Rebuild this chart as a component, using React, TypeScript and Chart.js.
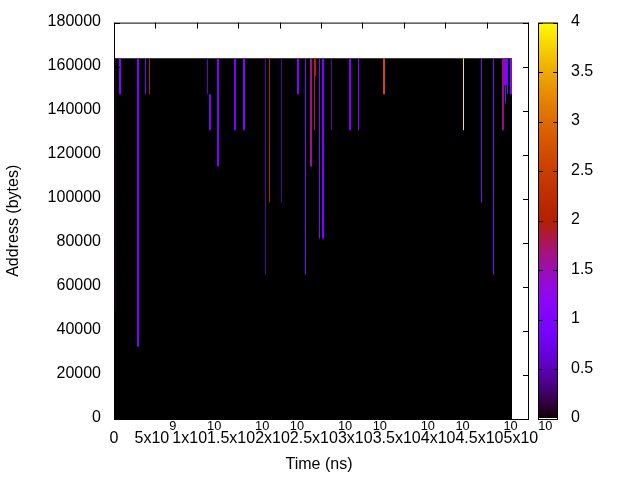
import React, { useEffect, useRef } from "react";
import { Chart, registerables } from "chart.js";

Chart.register(...registerables);

const FONT = '"Liberation Sans", Arial, sans-serif';

// ---- axis ticks ----
const Y_TICKS = [0, 20000, 40000, 60000, 80000, 100000, 120000, 140000, 160000, 180000];
const X_TICKS = [0, 5e9, 1e10, 1.5e10, 2e10, 2.5e10, 3e10, 3.5e10, 4e10, 4.5e10, 5e10];
const X_TICK_MANTISSA = ["0", "5x10", "1x10", "1.5x10", "2x10", "2.5x10", "3x10", "3.5x10", "4x10", "4.5x10", "5x10"];
const X_TICK_EXPONENT = ["", "9", "10", "10", "10", "10", "10", "10", "10", "10", "10"];
const CB_TICKS = [0, 0.5, 1, 1.5, 2, 2.5, 3, 3.5, 4];
const CB_LABELS = ["0", "0.5", "1", "1.5", "2", "2.5", "3", "3.5", "4"];

// ---- recorded region (address space x run time) ----
const ADDRESS_TOP = 163840;
const RUN_END = 48.07e9;

// ---- access streaks (time in ns, address range in bytes, access level) ----
const narrowTimes = [0.181e9, 3.804e9, 4.287e9, 11.292e9, 18.297e9, 18.78e9, 20.229e9, 23.128e9, 24.215e9, 24.819e9, 26.268e9, 29.529e9, 42.21e9, 44.384e9, 45.833e9, 46.92e9, 47.041e9, 47.283e9, 47.524e9];
const narrowLow = [49152, 147456, 147456, 147456, 65536, 98304, 98304, 65536, 131072, 81920, 131072, 131072, 131072, 98304, 65536, 131072, 131072, 143360, 147456];
const narrowHigh = [163840, 163840, 163840, 163840, 163840, 163840, 163840, 163840, 163840, 163840, 163840, 163840, 163840, 163840, 163840, 163840, 163840, 151552, 163840];
const narrowLevel = [0.1, 0.9, 1.8, 0.6, 0.45, 2.0, 0.45, 1.0, 1.9, 1.0, 0.45, 1.05, 3.9, 1.0, 1.0, 2.0, 0.95, 0.9, 0.9];

const wideTimes = [0.725e9, 2.899e9, 11.594e9, 12.56e9, 14.614e9, 15.7e9, 22.222e9, 23.792e9, 24.275e9, 25.242e9, 28.502e9, 32.609e9, 47.947e9];
const wideLow = [147456, 32768, 131072, 114688, 131072, 131072, 147456, 114688, 155648, 81920, 131072, 147456, 147456];
const wideHigh = [163840, 163840, 147456, 163840, 163840, 163840, 163840, 163840, 163840, 163840, 163840, 163840, 163840];
const wideLevel = [1.0, 0.9, 0.9, 0.9, 0.9, 1.05, 1.0, 1.6, 2.0, 0.95, 0.95, 2.6, 1.0];

const broadTimes = [47.283e9];
const broadLow = [151552];
const broadHigh = [163840];
const broadLevel = [1.05];

const CB_MAX = 4;

function paletteRGB(v: number): [number, number, number] {
  const g = Math.min(1, Math.max(0, v / CB_MAX));
  const r = Math.sqrt(g);
  const gg = g * g * g;
  const b = Math.max(0, Math.sin(2 * Math.PI * g));
  return [Math.round(r * 255), Math.round(gg * 255), Math.round(b * 255)];
}
function palette(v: number): string {
  const [r, g, b] = paletteRGB(v);
  return `rgb(${r},${g},${b})`;
}

function mk(xs: number[], lo: number[], hi: number[]) {
  return xs.map((x, i) => ({ x, y: [lo[i], hi[i]] }));
}

const decorPlugin = {
  id: "decor",
  afterDraw(chart: any) {
    const ctx = chart.ctx as CanvasRenderingContext2D;
    const { left, right, top, bottom } = chart.chartArea;
    const xs = chart.scales.x;
    const ys = chart.scales.y;
    ctx.save();
    ctx.globalAlpha = 1;
    ctx.globalCompositeOperation = "source-over";
    ctx.setLineDash([]);
    ctx.strokeStyle = "#000";
    ctx.lineWidth = 1;
    // frame
    ctx.strokeRect(left + 0.5, top + 0.5, right - left, bottom - top);
    // mirrored ticks
    const TL = 6;
    ctx.beginPath();
    Y_TICKS.forEach((v) => {
      const y = Math.round(ys.getPixelForValue(v)) + 0.5;
      ctx.moveTo(left, y);
      ctx.lineTo(left + TL, y);
      ctx.moveTo(right + 1, y);
      ctx.lineTo(right + 1 - TL, y);
    });
    X_TICKS.forEach((v) => {
      const x = Math.round(xs.getPixelForValue(v)) + 0.5;
      ctx.moveTo(x, top);
      ctx.lineTo(x, top + TL);
      ctx.moveTo(x, bottom + 1);
      ctx.lineTo(x, bottom + 1 - TL);
    });
    ctx.stroke();

    // x tick labels with superscript exponents
    ctx.fillStyle = "#000";
    ctx.textBaseline = "alphabetic";
    ctx.textAlign = "left";
    const mainFont = `16px ${FONT}`;
    const supFont = `12.8px ${FONT}`;
    X_TICKS.forEach((v, i) => {
      const x = xs.getPixelForValue(v);
      ctx.font = mainFont;
      const mw = ctx.measureText(X_TICK_MANTISSA[i]).width;
      ctx.font = supFont;
      const sw = X_TICK_EXPONENT[i] ? ctx.measureText(X_TICK_EXPONENT[i]).width : 0;
      const start = x - (mw + sw) / 2;
      ctx.font = mainFont;
      ctx.fillText(X_TICK_MANTISSA[i], start, 443);
      if (X_TICK_EXPONENT[i]) {
        ctx.font = supFont;
        ctx.fillText(X_TICK_EXPONENT[i], start + mw, 430);
      }
    });

    // axis titles
    ctx.font = mainFont;
    ctx.textAlign = "center";
    ctx.textBaseline = "middle";
    ctx.fillText("Time (ns)", 319, 465);
    ctx.save();
    ctx.translate(14, (top + bottom) / 2);
    ctx.rotate(-Math.PI / 2);
    ctx.fillText("Address (bytes)", 0, 0);
    ctx.restore();

    // colour box
    const cbL = 538;
    const cbW = 19;
    const cbTop = top;
    const cbBot = bottom;
    const h = cbBot - cbTop;
    const img = ctx.createImageData(cbW + 1, h);
    for (let row = 0; row < h; row++) {
      const v = ((h - (row + 0.5)) / h) * CB_MAX;
      const [r, g, b] = paletteRGB(v);
      for (let col = 0; col < cbW + 1; col++) {
        const k = (row * (cbW + 1) + col) * 4;
        img.data[k] = r;
        img.data[k + 1] = g;
        img.data[k + 2] = b;
        img.data[k + 3] = 255;
      }
    }
    ctx.putImageData(img, cbL, cbTop);
    ctx.strokeStyle = "#000";
    ctx.strokeRect(cbL + 0.5, cbTop + 0.5, cbW, h);
    ctx.beginPath();
    CB_TICKS.forEach((v) => {
      const y = Math.round(cbBot - (v / CB_MAX) * h) + 0.5;
      ctx.moveTo(cbL, y);
      ctx.lineTo(cbL + 5, y);
      ctx.moveTo(cbL + cbW + 1, y);
      ctx.lineTo(cbL + cbW + 1 - 5, y);
    });
    ctx.stroke();
    ctx.fillStyle = "#000";
    ctx.font = mainFont;
    ctx.textAlign = "left";
    ctx.textBaseline = "middle";
    CB_TICKS.forEach((v, i) => {
      const y = cbBot - (v / CB_MAX) * h;
      ctx.fillText(CB_LABELS[i], 571, y - 1);
    });
    ctx.restore();
  },
};

export default function App() {
  const ref = useRef<HTMLCanvasElement>(null);
  useEffect(() => {
    const canvas = ref.current!;
    const barCommon = {
      type: "bar" as const,
      grouped: false,
      inflateAmount: 0,
      borderWidth: 0,
      borderSkipped: false,
    };
    const chart = new Chart(canvas, {
      type: "bar",
      data: {
        datasets: [
          {
            ...barCommon,
            label: "narrow",
            data: mk(narrowTimes, narrowLow, narrowHigh) as any,
            backgroundColor: narrowLevel.map(palette),
            barThickness: 1,
            order: 1,
          },
          {
            ...barCommon,
            label: "wide",
            data: mk(wideTimes, wideLow, wideHigh) as any,
            backgroundColor: wideLevel.map(palette),
            barThickness: 2,
            order: 2,
          },
          {
            ...barCommon,
            label: "broad",
            data: mk(broadTimes, broadLow, broadHigh) as any,
            backgroundColor: broadLevel.map(palette),
            barThickness: 3,
            order: 3,
          },
          {
            type: "line" as const,
            label: "recorded",
            data: [
              { x: 0, y: ADDRESS_TOP },
              { x: RUN_END, y: ADDRESS_TOP },
            ] as any,
            fill: "origin",
            backgroundColor: palette(0),
            borderColor: "rgba(0,0,0,0)",
            borderWidth: 0,
            pointRadius: 0,
            order: 10,
          } as any,
        ],
      },
      options: {
        responsive: false,
        animation: false,
        events: [],
        layout: { padding: { top: 19, right: 112, left: 0, bottom: 0 } },
        plugins: {
          legend: { display: false },
          tooltip: { enabled: false },
        },
        scales: {
          x: {
            type: "linear",
            min: 0,
            max: 5e10,
            offset: false,
            grid: { display: false, drawTicks: false },
            border: { display: false },
            ticks: { display: false },
            afterFit: (s: any) => {
              s.height = 61;
            },
          },
          y: {
            type: "linear",
            min: 0,
            max: 180000,
            grid: { display: false, drawTicks: false },
            border: { display: false },
            ticks: {
              stepSize: 20000,
              padding: 13,
              color: "#000",
              font: { family: FONT, size: 16 },
              labelOffset: -1,
              callback: (v: any) => String(v),
            },
            afterFit: (s: any) => {
              s.width = 114;
            },
          },
        },
      } as any,
      plugins: [decorPlugin],
    });
    return () => chart.destroy();
  }, []);
  return (
    <div style={{ position: "fixed", left: 0, top: 0, width: 640, height: 480, background: "#fff" }}>
      <canvas ref={ref} width={640} height={480} style={{ display: "block" }} />
    </div>
  );
}
